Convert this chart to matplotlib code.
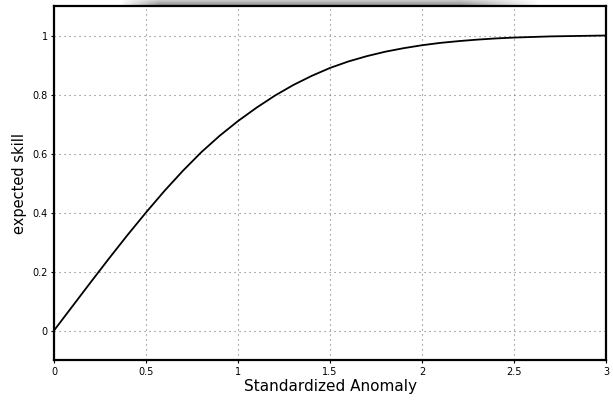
import numpy as np
import matplotlib
matplotlib.use("Agg")
import matplotlib.pyplot as plt

# Werte
anomaly = [0.0, 0.1, 0.2, 0.3, 0.4, 0.5, 0.6, 0.7, 0.8, 0.9, 1.0,
           1.1, 1.2, 1.3, 1.4, 1.5, 1.6, 1.7, 1.8, 1.9, 2.0,
           2.1, 2.2, 2.3, 2.4, 2.5, 2.6, 2.7, 2.8, 2.9, 3.0]
skill = [0.0, 0.082, 0.164, 0.245, 0.324, 0.40, 0.473, 0.541, 0.604, 0.66, 0.71,
         0.755, 0.796, 0.832, 0.863, 0.89, 0.912, 0.93, 0.945, 0.957, 0.967,
         0.975, 0.981, 0.986, 0.99, 0.993, 0.995, 0.997, 0.998, 0.999, 1.0]
xticks = [0, 0.5, 1, 1.5, 2, 2.5, 3]
xticklabels = ["0", "0.5", "1", "1.5", "2", "2.5", "3"]
yticks = [0, 0.2, 0.4, 0.6, 0.8, 1.0]
yticklabels = ["0", "0.2", "0.4", "0.6", "0.8", "1"]

fig = plt.figure(figsize=(6.13, 4.02), dpi=100)
ax = fig.add_axes([54 / 613, 1 - 361 / 402, 552 / 613, 354 / 402])

ax.plot(anomaly, skill, color="black", lw=1.3)

ax.set_xlim(0, 3)
ax.set_ylim(-0.1, 1.1)
ax.set_xticks(xticks)
ax.set_xticklabels(xticklabels)
ax.set_yticks(yticks)
ax.set_yticklabels(yticklabels)
ax.tick_params(axis="both", labelsize=7, length=2.5, width=0.8, pad=2)

ax.grid(True, color="#777777", linestyle=(0, (1, 3.5)), linewidth=0.8)

for s in ax.spines.values():
    s.set_linewidth(1.6)

ax.set_xlabel("Standardized Anomaly", fontsize=11, labelpad=1)
ax.set_ylabel("expected skill", fontsize=10.5, labelpad=4)

# grauer Schatten oben (Scan-Artefakt)
sh = fig.add_axes([120 / 613, 1 - 7 / 402, 420 / 613, 7 / 402])
v = np.linspace(0.82, 0.55, 7)[:, None]
h = np.ones((1, 420))
h[0, :40] = np.linspace(0, 1, 40)
h[0, -80:] = np.linspace(1, 0, 80)
img = 1 - (1 - v) * h
sh.imshow(img, cmap="gray", vmin=0, vmax=1, aspect="auto")
sh.axis("off")
ax.set_zorder(2)
ax.patch.set_alpha(0)

fig.savefig("out.png", dpi=100)
